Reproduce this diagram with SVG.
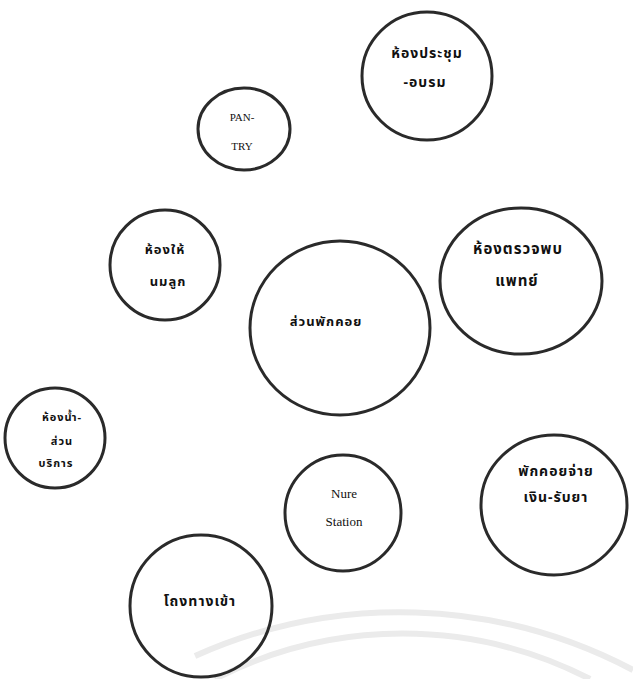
<svg xmlns="http://www.w3.org/2000/svg" width="633" height="679" viewBox="0 0 633 679">
<style>
.c{fill:none;stroke:#2a2a2a;stroke-width:3}
.t{font-family:"Noto Sans Thai","Noto Sans","DejaVu Sans",sans-serif;font-weight:bold;fill:#111;text-anchor:middle;dominant-baseline:middle;letter-spacing:1px}
.e{font-family:"Liberation Serif",serif;fill:#111;text-anchor:middle;dominant-baseline:middle}
.w{fill:none;stroke:#ebebeb;stroke-width:6}
</style>
<rect width="633" height="679" fill="#fff"/>
<g id="watermark">
<path class="w" d="M195,656 A500,500 0 0 1 633,670"/>
<path class="w" d="M215,679 A410,410 0 0 1 590,679"/>
</g>
<g id="connectors"></g>
<g id="meeting"><ellipse class="c" cx="427" cy="76" rx="65" ry="64"/>
<text class="t" x="427" y="54" font-size="14">ห้องประชุม</text>
<text class="t" x="425" y="83" font-size="14">-อบรม</text></g>
<g id="pantry"><ellipse class="c" cx="244" cy="129" rx="46" ry="41"/>
<text class="e" x="242" y="118" font-size="11">PAN-</text>
<text class="e" x="242" y="147" font-size="11">TRY</text></g>
<g id="nursing"><circle class="c" cx="165" cy="265" r="55"/>
<text class="t" x="165" y="250" font-size="13">ห้องให้</text>
<text class="t" x="168" y="282" font-size="13">นมลูก</text></g>
<g id="exam"><ellipse class="c" cx="521" cy="281" rx="81" ry="73"/>
<text class="t" x="518" y="250" font-size="15">ห้องตรวจพบ</text>
<text class="t" x="517" y="282" font-size="15">แพทย์</text></g>
<g id="waiting"><ellipse class="c" cx="340" cy="328" rx="90" ry="87"/>
<text class="t" x="326" y="322" font-size="13">ส่วนพักคอย</text></g>
<g id="toilet"><circle class="c" cx="55" cy="438" r="50"/>
<text class="t" x="62" y="418" font-size="11">ห้องน้ำ-</text>
<text class="t" x="62" y="442" font-size="11">ส่วน</text>
<text class="t" x="56" y="464" font-size="11">บริการ</text></g>
<g id="nurse"><circle class="c" cx="343" cy="513" r="58"/>
<text class="e" x="344" y="495" font-size="13">Nure</text>
<text class="e" x="344" y="523" font-size="13">Station</text></g>
<g id="pay"><ellipse class="c" cx="554" cy="505" rx="73" ry="70"/>
<text class="t" x="556" y="472" font-size="14">พักคอยจ่าย</text>
<text class="t" x="556" y="498" font-size="14">เงิน-รับยา</text></g>
<g id="entrance"><circle class="c" cx="201" cy="606" r="71"/>
<text class="t" x="200" y="602" font-size="14">โถงทางเข้า</text></g>
</svg>
